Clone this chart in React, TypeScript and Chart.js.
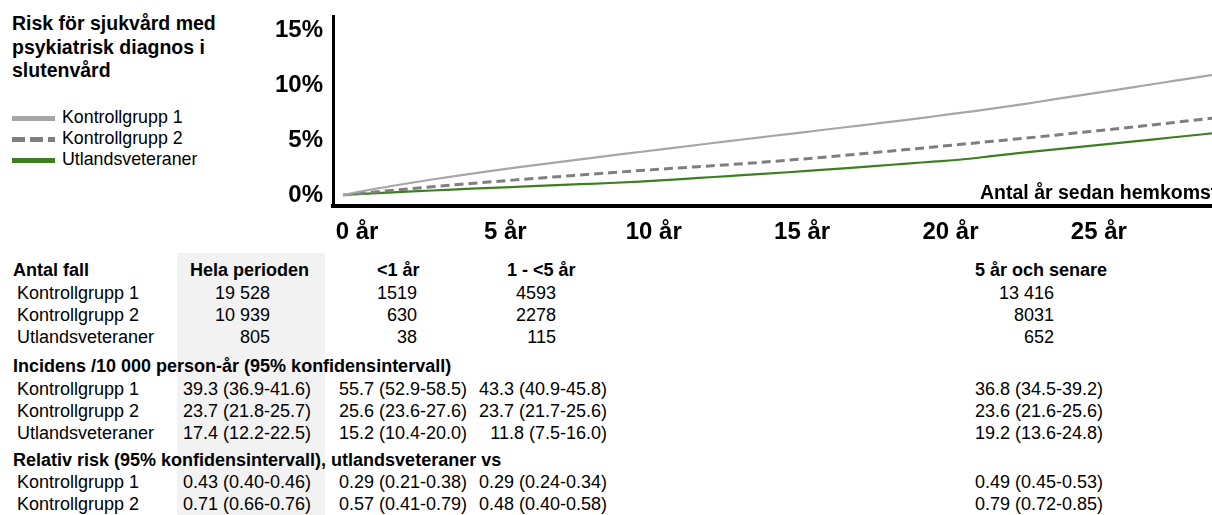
import React, { useEffect, useRef } from 'react';
import { Chart, registerables } from 'chart.js';

Chart.register(...registerables);

const FONT = '"Liberation Sans", Arial, Helvetica, sans-serif';

// ---- chart data (cumulative risk, %) ----
const years = [0, 1, 2, 3, 4, 5, 6, 7, 8, 9, 10, 11, 12, 13, 14, 15, 16, 17, 18, 19, 20, 21, 22, 23, 24, 25, 26, 27, 28, 29, 30];
const kontroll1 = [0, 0.52, 0.98, 1.41, 1.81, 2.19, 2.55, 2.9, 3.24, 3.58, 3.91, 4.24, 4.57, 4.9, 5.22, 5.54, 5.86, 6.18, 6.5, 6.83, 7.18, 7.53, 7.89, 8.29, 8.71, 9.12, 9.53, 9.95, 10.37, 10.79, 11.21];
const kontroll2 = [0, 0.26, 0.51, 0.75, 0.98, 1.2, 1.41, 1.62, 1.82, 2.02, 2.22, 2.4, 2.58, 2.76, 2.95, 3.16, 3.39, 3.63, 3.88, 4.13, 4.39, 4.65, 4.91, 5.17, 5.44, 5.72, 5.99, 6.29, 6.59, 6.89, 7.19];
const veteraner = [0, 0.15, 0.28, 0.41, 0.53, 0.65, 0.76, 0.87, 0.98, 1.09, 1.22, 1.38, 1.55, 1.72, 1.89, 2.07, 2.26, 2.45, 2.64, 2.86, 3.05, 3.27, 3.58, 3.87, 4.15, 4.42, 4.69, 4.97, 5.25, 5.52, 5.8];
const xTickYears = [0, 5, 10, 15, 20, 25];
const yTickValues = [0, 5, 10, 15];

const seriesNames = ['Kontrollgrupp 1', 'Kontrollgrupp 2', 'Utlandsveteraner'];
const titleLines = ['Risk för sjukvård med', 'psykiatrisk diagnos i', 'slutenvård'];
const xAxisTitle = 'Antal år sedan hemkomst';

// ---- table data ----
const groups = ['Kontrollgrupp 1', 'Kontrollgrupp 2', 'Utlandsveteraner'];
const periods = ['Hela perioden', '<1 år', '1 - <5 år', '5 år och senare'];
const casesK1 = ['19 528', '1519', '4593', '13 416'];
const casesK2 = ['10 939', '630', '2278', '8031'];
const casesVet = ['805', '38', '115', '652'];
const incK1 = ['39.3 (36.9-41.6)', '55.7 (52.9-58.5)', '43.3 (40.9-45.8)', '36.8 (34.5-39.2)'];
const incK2 = ['23.7 (21.8-25.7)', '25.6 (23.6-27.6)', '23.7 (21.7-25.6)', '23.6 (21.6-25.6)'];
const incVet = ['17.4 (12.2-22.5)', '15.2 (10.4-20.0)', '11.8 (7.5-16.0)', '19.2 (13.6-24.8)'];
const rrK1 = ['0.43 (0.40-0.46)', '0.29 (0.21-0.38)', '0.29 (0.24-0.34)', '0.49 (0.45-0.53)'];
const rrK2 = ['0.71 (0.66-0.76)', '0.57 (0.41-0.79)', '0.48 (0.40-0.58)', '0.79 (0.72-0.85)'];
const sectionTitles = ['Antal fall', 'Incidens /10 000 person-år (95% konfidensintervall)', 'Relativ risk (95% konfidensintervall), utlandsveteraner vs'];

type TProps = { x: number; y: number; align?: 'left' | 'right'; bold?: boolean; size?: number; children: React.ReactNode };
function T({ x, y, align = 'left', bold = false, size = 18, children }: TProps) {
  return (
    <div
      style={{
        position: 'absolute',
        left: x,
        top: y - 11,
        lineHeight: '22px',
        fontSize: size,
        fontWeight: bold ? 700 : 400,
        whiteSpace: 'nowrap',
        color: '#000',
        transform: align === 'right' ? 'translateX(-100%)' : undefined,
      }}
    >
      {children}
    </div>
  );
}

function LineChart() {
  const ref = useRef<HTMLCanvasElement | null>(null);
  useEffect(() => {
    if (!ref.current) return;
    const mk = (arr: number[]) => years.map((x, i) => ({ x, y: arr[i] }));
    const chart = new Chart(ref.current, {
      type: 'line',
      data: {
        datasets: [
          { label: seriesNames[0], data: mk(kontroll1), borderColor: '#a6a6a6', borderWidth: 2.2, pointRadius: 0, cubicInterpolationMode: 'monotone' },
          { label: seriesNames[1], data: mk(kontroll2), borderColor: '#7f7f7f', borderWidth: 3, borderDash: [9, 5], pointRadius: 0, cubicInterpolationMode: 'monotone' },
          { label: seriesNames[2], data: mk(veteraner), borderColor: '#3d7f1f', borderWidth: 2.2, pointRadius: 0, cubicInterpolationMode: 'monotone' },
        ],
      },
      options: {
        responsive: false,
        animation: false,
        layout: { padding: { top: 16, left: 0, right: 0, bottom: 0 } },
        plugins: { legend: { display: false }, tooltip: { enabled: false } },
        scales: {
          x: {
            type: 'linear',
            min: -0.337,
            max: 30.5,
            afterBuildTicks: (a: any) => {
              a.ticks = xTickYears.map((v) => ({ value: v }));
            },
            afterFit: (a: any) => {
              a.height = 44;
              a.paddingLeft = 0;
              a.paddingRight = 0;
            },
            grid: { display: false, drawTicks: false },
            border: { display: true, color: '#000', width: 4 },
            ticks: {
              callback: (v: any) => `${v} år`,
              font: { size: 24, weight: 'bold', family: FONT },
              color: '#000',
              padding: 12,
              labelOffset: 14,
              maxRotation: 0,
              autoSkip: false,
            },
          },
          y: {
            type: 'linear',
            min: -1,
            max: 16.27,
            afterBuildTicks: (a: any) => {
              a.ticks = yTickValues.map((v) => ({ value: v }));
            },
            afterFit: (a: any) => {
              a.width = 93;
              a.paddingTop = 0;
              a.paddingBottom = 0;
            },
            grid: { display: false, drawTicks: false },
            border: { display: true, color: '#000', width: 3 },
            ticks: {
              callback: (v: any) => `${v}%`,
              font: { size: 24, weight: 'bold', family: FONT },
              color: '#000',
              padding: 10,
            },
          },
        },
      },
    } as any);
    return () => chart.destroy();
  }, []);
  return <canvas ref={ref} width={1008} height={250} style={{ position: 'absolute', left: 240, top: 0, width: 1008, height: 250 }} />;
}

export default function App() {
  const legendStyles: React.CSSProperties[] = [
    { background: '#a6a6a6' },
    { background: 'repeating-linear-gradient(to right, #7f7f7f 0 13px, transparent 13px 18px)' },
    { background: '#3d7f1f' },
  ];
  const cols = { hela: 190, lt1: 377, lt5: 507, gt5: 975 };
  const caseRight = [270, 417, 556, 1054];
  const valPos: { x: number; align: 'left' | 'right' }[] = [
    { x: 183, align: 'left' },
    { x: 467, align: 'right' },
    { x: 607, align: 'right' },
    { x: 975, align: 'left' },
  ];
  const caseRows = [casesK1, casesK2, casesVet];
  const incRows = [incK1, incK2, incVet];
  const rrRows = [rrK1, rrK2];
  const caseY = [293, 315, 337];
  const incY = [389, 411, 433];
  const rrY = [482, 504];

  return (
    <div
      style={{
        position: 'fixed',
        left: 0,
        top: 0,
        width: 1212,
        height: 515,
        overflow: 'hidden',
        background: '#fff',
        fontFamily: FONT,
        color: '#000',
      }}
    >
      {/* grey column band */}
      <div style={{ position: 'absolute', left: 177, top: 253, width: 148, height: 262, background: '#f2f2f2' }} />

      {/* title */}
      <div style={{ position: 'absolute', left: 12, top: 12, fontSize: 19.5, lineHeight: '23.7px', fontWeight: 700, whiteSpace: 'nowrap' }}>
        {titleLines.map((l) => (
          <div key={l}>{l}</div>
        ))}
      </div>

      {/* legend */}
      {seriesNames.map((n, i) => (
        <React.Fragment key={n}>
          <div style={{ position: 'absolute', left: 12, top: 115.5 + i * 21, width: 43, height: 5, ...legendStyles[i] }} />
          <div style={{ position: 'absolute', left: 62, top: 107 + i * 21, fontSize: 17.8, lineHeight: '21px', whiteSpace: 'nowrap' }}>{n}</div>
        </React.Fragment>
      ))}

      <LineChart />

      {/* x axis title inside the plot */}
      <div style={{ position: 'absolute', left: 980, top: 179.5, fontSize: 19.5, lineHeight: '24px', fontWeight: 700, whiteSpace: 'nowrap' }}>{xAxisTitle}</div>

      {/* table headers */}
      <T x={13} y={270} bold>{sectionTitles[0]}</T>
      <T x={cols.hela} y={270} bold>{periods[0]}</T>
      <T x={cols.lt1} y={270} bold>{periods[1]}</T>
      <T x={cols.lt5} y={270} bold>{periods[2]}</T>
      <T x={cols.gt5} y={270} bold>{periods[3]}</T>

      {groups.map((g, r) => (
        <React.Fragment key={'c' + g}>
          <T x={17} y={caseY[r]}>{g}</T>
          {caseRows[r].map((v, c) => (
            <T key={c} x={caseRight[c]} y={caseY[r]} align="right">{v}</T>
          ))}
        </React.Fragment>
      ))}

      <T x={13} y={366} bold>{sectionTitles[1]}</T>
      {groups.map((g, r) => (
        <React.Fragment key={'i' + g}>
          <T x={17} y={incY[r]}>{g}</T>
          {incRows[r].map((v, c) => (
            <T key={c} x={valPos[c].x} y={incY[r]} align={valPos[c].align}>{v}</T>
          ))}
        </React.Fragment>
      ))}

      <T x={13} y={460} bold>{sectionTitles[2]}</T>
      {groups.slice(0, 2).map((g, r) => (
        <React.Fragment key={'r' + g}>
          <T x={17} y={rrY[r]}>{g}</T>
          {rrRows[r].map((v, c) => (
            <T key={c} x={valPos[c].x} y={rrY[r]} align={valPos[c].align}>{v}</T>
          ))}
        </React.Fragment>
      ))}
    </div>
  );
}
